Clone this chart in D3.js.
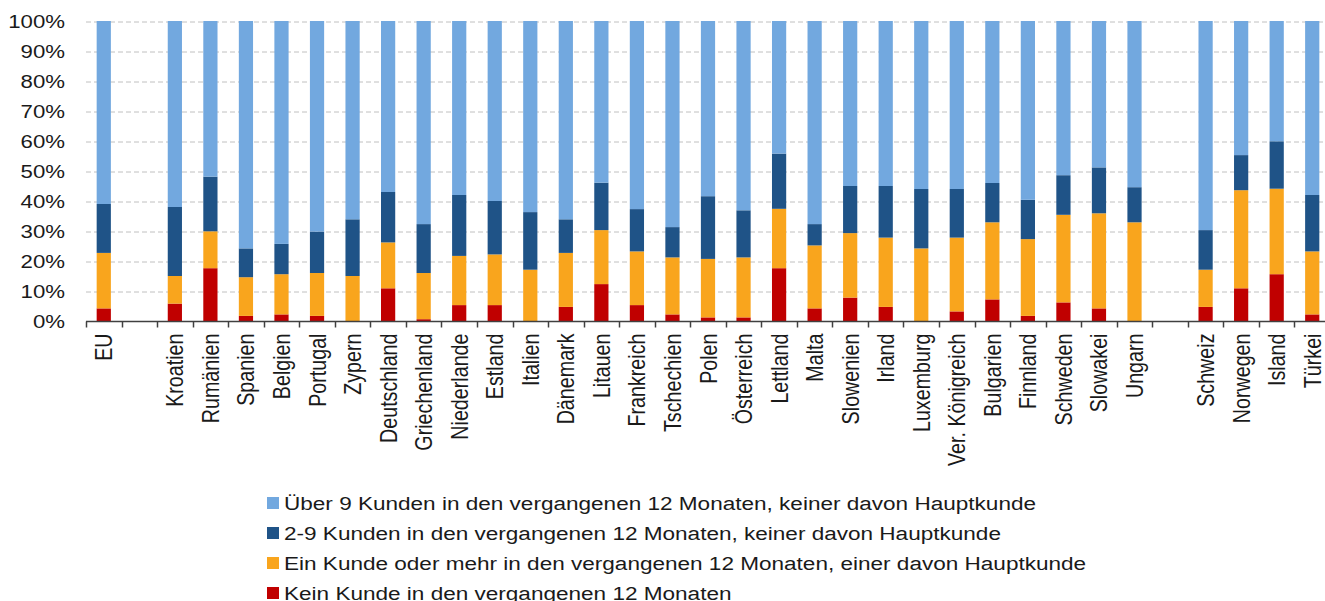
<!DOCTYPE html>
<html>
<head>
<meta charset="utf-8">
<script src="https://cdn.jsdelivr.net/npm/d3@7"></script>
<style>
  body { margin: 0; background: #fff; }
  svg { display: block; font-family: "Liberation Sans", Arial, sans-serif; }
  .grid line { stroke: #c0c0c0; stroke-dasharray: 5,3; }
  .grid .domain { display: none; }
</style>
</head>
<body>
<svg width="1325" height="601"></svg>
<script>
// categories, '' entries are the empty slots between groups
const CATEGORIES = ['EU', '', 'Kroatien', 'Rumänien', 'Spanien', 'Belgien', 'Portugal', 'Zypern',
  'Deutschland', 'Griechenland', 'Niederlande', 'Estland', 'Italien', 'Dänemark', 'Litauen',
  'Frankreich', 'Tschechien', 'Polen', 'Österreich', 'Lettland', 'Malta', 'Slowenien', 'Irland',
  'Luxemburg', 'Ver. Königreich', 'Bulgarien', 'Finnland', 'Schweden', 'Slowakei', 'Ungarn', '',
  'Schweiz', 'Norwegen', 'Island', 'Türkei'];

const KEIN = [4.2, null, 5.8, 17.6, 1.7, 2.2, 1.7, 0, 10.9, 0.6, 5.3, 5.3, 0, 4.7, 12.3, 5.3, 2.2,
  1.2, 1.2, 17.6, 4.2, 7.8, 4.7, 0, 3.2, 7.2, 1.7, 6.2, 4.2, 0, null, 4.7, 10.9, 15.6, 2.2];
const EIN = [18.5, null, 9.2, 12.3, 12.9, 13.4, 14.3, 15, 15.3, 15.4, 16.4, 16.9, 17.1, 18, 18,
  17.9, 19, 19.5, 20, 19.8, 21, 21.5, 23.1, 24.2, 24.6, 25.7, 25.6, 29.2, 31.7, 32.9, null,
  12.4, 32.7, 28.5, 21];
const ZWEI_NEUN = [16.3, null, 23, 18.2, 9.6, 10.1, 13.8, 18.9, 16.8, 16.3, 20.3, 17.8, 19.2, 11.2,
  15.8, 14.1, 10.1, 20.9, 15.7, 18.4, 7.1, 15.7, 17.2, 19.8, 16.2, 13.1, 13.1, 13.2, 15.3, 11.7,
  null, 13.2, 11.7, 15.8, 18.8];
const UEBER_9 = [61, null, 62, 51.9, 75.8, 74.3, 70.2, 66.1, 57, 67.7, 58, 60, 63.7, 66.1, 53.9,
  62.7, 68.7, 58.4, 63.1, 44.2, 67.7, 55, 55, 56, 56, 54, 59.6, 51.4, 48.8, 55.4, null,
  69.7, 44.7, 40.1, 58];

const SERIES = [
  { key: 'kein', label: 'Kein Kunde in den vergangenen 12 Monaten', color: '#c00000', values: KEIN },
  { key: 'ein', label: 'Ein Kunde oder mehr in den vergangenen 12 Monaten, einer davon Hauptkunde', color: '#f9a51d', values: EIN },
  { key: 'zwei', label: '2-9 Kunden in den vergangenen 12 Monaten, keiner davon Hauptkunde', color: '#1f5387', values: ZWEI_NEUN },
  { key: 'ueber', label: 'Über 9 Kunden in den vergangenen 12 Monaten, keiner davon Hauptkunde', color: '#72a8df', values: UEBER_9 }
];
const Y_TICKS = [0, 10, 20, 30, 40, 50, 60, 70, 80, 90, 100];

// the source picture is stretched sideways, so text gets a horizontal scale
const STRETCH = 1.2;

let svg = d3.select('svg');
let plotLeft = 86, plotRight = 1330, plotTop = 21, plotBottom = 321;

let rows = CATEGORIES.map((c, i) => {
  let row = { id: i, name: c };
  for (let s of SERIES) row[s.key] = s.values[i] == null ? 0 : s.values[i];
  return row;
});

let x = d3.scaleBand().domain(rows.map(d => d.id)).range([plotLeft, plotRight]).padding(0);
let y = d3.scaleLinear().domain([0, 100]).range([plotBottom, plotTop]);

// gridlines
svg.append('g')
  .attr('class', 'grid')
  .attr('transform', `translate(${plotLeft},0.5)`)
  .call(d3.axisLeft(y).tickValues(Y_TICKS.slice(1)).tickSize(-(1325 - plotLeft)).tickFormat(''));

// y labels
svg.append('g')
  .selectAll('text')
  .data(Y_TICKS)
  .enter()
  .append('text')
  .attr('transform', d => `translate(65,${y(d)}) scale(${STRETCH},1)`)
  .attr('dy', '0.36em')
  .attr('text-anchor', 'end')
  .attr('font-size', '18.5px')
  .attr('fill', '#1a1a1a')
  .text(d => d + '%');

// stacked bars
let stack = d3.stack().keys(SERIES.map(s => s.key));
let layers = stack(rows.filter(d => SERIES[0].values[d.id] != null));
let barW = x.bandwidth() * 0.4;

svg.append('g')
  .selectAll('g')
  .data(layers)
  .enter()
  .append('g')
  .attr('fill', (d, i) => SERIES[i].color)
  .selectAll('rect')
  .data(d => d)
  .enter()
  .append('rect')
  .attr('x', d => x(d.data.id) + (x.bandwidth() - barW) / 2)
  .attr('y', d => y(d[1]))
  .attr('width', barW)
  .attr('height', d => y(d[0]) - y(d[1]));

// category axis
let xAxis = svg.append('g')
  .attr('transform', `translate(0,${plotBottom + 0.5})`);
xAxis.append('line')
  .attr('x1', plotLeft).attr('x2', 1325)
  .attr('stroke', '#404040').attr('stroke-width', 1.5);
xAxis.selectAll('.tick')
  .data(rows.map(d => x(d.id)))
  .enter()
  .append('line')
  .attr('x1', d => Math.round(d) + 0.5).attr('x2', d => Math.round(d) + 0.5)
  .attr('y1', 0).attr('y2', 6)
  .attr('stroke', '#404040').attr('stroke-width', 1.5);

xAxis.selectAll('.label')
  .data(rows.filter(d => d.name !== ''))
  .enter()
  .append('text')
  .attr('transform', d => `translate(${x(d.id) + x.bandwidth() / 2},12) scale(${STRETCH},1) rotate(-90)`)
  .attr('dy', '0.36em')
  .attr('text-anchor', 'end')
  .attr('font-size', '19.7px')
  .attr('fill', '#1a1a1a')
  .text(d => d.name);

// legend, top entry is the top series
let legend = svg.append('g')
  .selectAll('g')
  .data(SERIES.slice().reverse())
  .enter()
  .append('g')
  .attr('transform', (d, i) => `translate(267,${503 + i * 30})`);
legend.append('rect')
  .attr('x', 0).attr('y', -6)
  .attr('width', 12).attr('height', 12)
  .attr('fill', d => d.color);
legend.append('text')
  .attr('transform', `translate(17,0) scale(${STRETCH},1)`)
  .attr('dy', '0.36em')
  .attr('font-size', '18.8px')
  .attr('fill', '#1a1a1a')
  .text(d => d.label);
</script>
</body>
</html>
